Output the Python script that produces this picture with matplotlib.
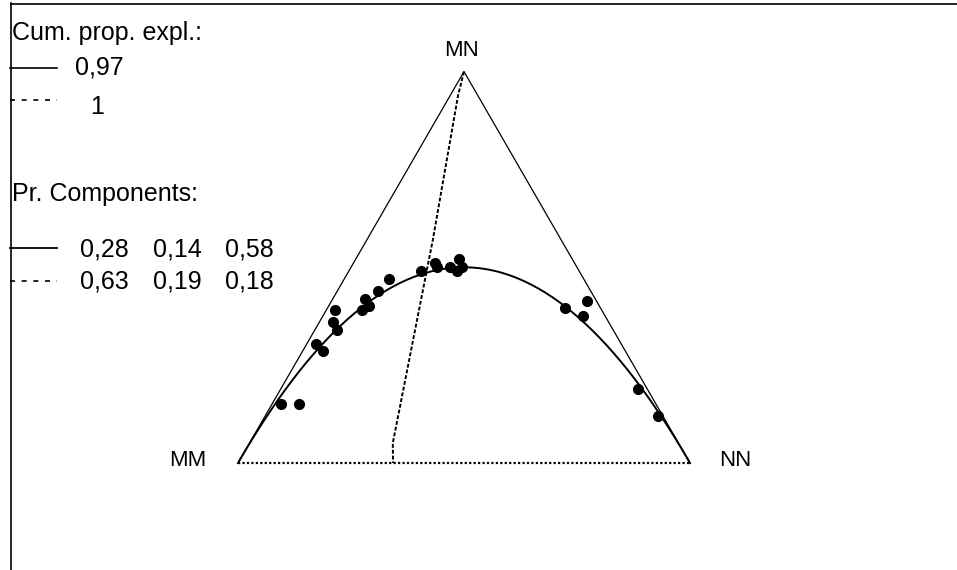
import numpy as np
import matplotlib
matplotlib.use("Agg")
import matplotlib.pyplot as plt

plt.rcParams['font.family'] = ['Liberation Sans', 'DejaVu Sans']

# genotype proportions of the samples (MM, MN, NN)
mm = [0.83, 0.79, 0.675, 0.67, 0.61, 0.59, 0.61, 0.53, 0.51, 0.51, 0.47, 0.43,
      0.35, 0.31, 0.31, 0.28, 0.25, 0.27, 0.255, 0.08, 0.02, 0.05, 0.02, 0.01]
mn = [0.15, 0.15, 0.305, 0.285, 0.36, 0.39, 0.34, 0.39, 0.42, 0.40, 0.44, 0.47,
      0.49, 0.51, 0.50, 0.50, 0.52, 0.49, 0.50, 0.395, 0.415, 0.375, 0.19, 0.12]
nn = [0.02, 0.06, 0.02, 0.045, 0.03, 0.02, 0.05, 0.08, 0.07, 0.09, 0.09, 0.10,
      0.16, 0.18, 0.19, 0.22, 0.23, 0.24, 0.245, 0.525, 0.565, 0.575, 0.79, 0.87]

# second principal component curve (MM, MN, NN)
pc2_mm = [0.0, 0.043, 0.284, 0.632, 0.657]
pc2_mn = [1.0, 0.940, 0.570, 0.051, 0.0]
pc2_nn = [0.0, 0.017, 0.146, 0.317, 0.343]

cum_prop = [0.97, 1]
components = [[0.28, 0.14, 0.58], [0.63, 0.19, 0.18]]
vertex_labels = ["MM", "MN", "NN"]

S = np.sqrt(3) / 2


def to_xy(a, b, c):
    a, b, c = np.asarray(a, float), np.asarray(b, float), np.asarray(c, float)
    tot = a + b + c
    b, c = b / tot, c / tot
    return c + b / 2, b * S


def fmt(v):
    return f"{v:g}".replace('.', ',')


fig = plt.figure(figsize=(9.57, 5.70), dpi=100)

# overlay in pixel units for frame, legend and labels
ov = fig.add_axes([0, 0, 1, 1])
ov.set_xlim(0, 957)
ov.set_ylim(570, 0)
ov.axis('off')

ov.plot([10.5, 957], [3.5, 3.5], color='black', lw=1.2)
ov.plot([10.5, 10.5], [3, 570], color='black', lw=1.2)

fs = 18
ov.text(12, 33, "Cum. prop. expl.:", fontsize=fs, va='center', ha='left')
ov.plot([10, 57], [68, 68], color='black', lw=1.2)
ov.plot([10, 57], [100, 100], color='black', lw=1.2, ls=(0, (3, 4)))
ov.text(75, 68, fmt(cum_prop[0]), fontsize=fs, va='center', ha='left')
ov.text(90, 107, fmt(cum_prop[1]), fontsize=fs, va='center', ha='left')

ov.text(12, 194, "Pr. Components:", fontsize=fs, va='center', ha='left')
ov.plot([10, 57], [248, 248], color='black', lw=1.3)
ov.plot([10, 57], [281, 281], color='black', lw=1.2, ls=(0, (3, 4)))
for row, yy in zip(components, [249, 281]):
    for v, xx in zip(row, [80, 153, 225]):
        ov.text(xx, yy, f"{v:.2f}".replace('.', ','), fontsize=fs, va='center', ha='left')

ov.text(188, 461, vertex_labels[0], fontsize=16, va='center', ha='center')
ov.text(462, 50, vertex_labels[1], fontsize=16, va='center', ha='center')
ov.text(735, 461, vertex_labels[2], fontsize=16, va='center', ha='center')

# ternary axes
ax = fig.add_axes([238 / 957, 107 / 570, 452 / 957, 391.4 / 570])
ax.set_xlim(0, 1)
ax.set_ylim(0, S)
ax.axis('off')

ax.plot([0, 0.5, 1], [0, S, 0], color='black', lw=0.9, clip_on=False)
ax.plot([0, 1], [0, 0], color='black', lw=1.6, ls=(0, (1, 1)), clip_on=False)

# Hardy-Weinberg curve
q = np.linspace(0, 1, 201)
hx, hy = to_xy((1 - q) ** 2, 2 * q * (1 - q), q ** 2)
ax.plot(hx, hy, color='black', lw=1.4, clip_on=False)

px, py = to_xy(pc2_mm, pc2_mn, pc2_nn)
ax.plot(px, py, color='black', lw=1.4, ls=(0, (2, 1)), clip_on=False)

sx, sy = to_xy(mm, mn, nn)
ax.plot(sx, sy, 'o', color='black', ms=7, clip_on=False)

fig.savefig("out.png", dpi=100)
